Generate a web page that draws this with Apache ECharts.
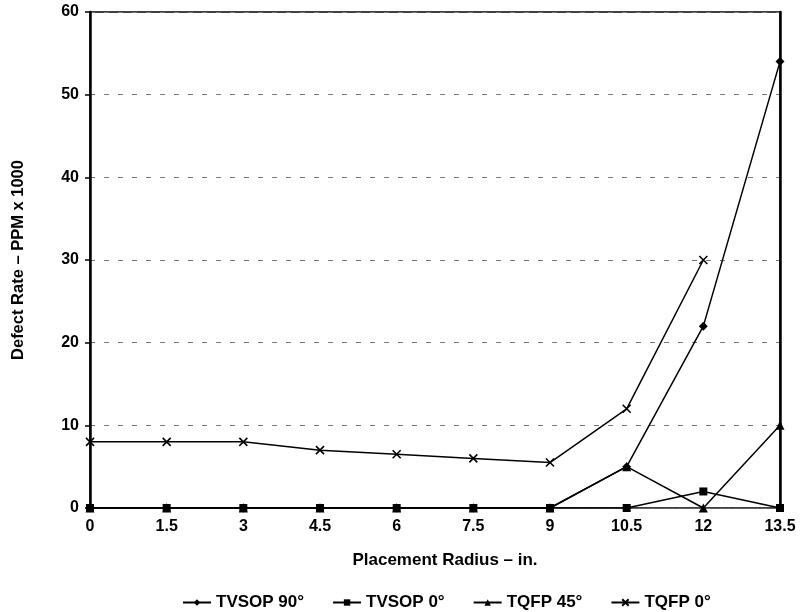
<!DOCTYPE html>
<html><head><meta charset="utf-8">
<script src="https://cdn.jsdelivr.net/npm/echarts@6/dist/echarts.min.js"></script>
<style>html,body{margin:0;padding:0;background:#fff}#c{width:803px;height:612px}</style>
</head><body><div id="c"></div>
<script>
var categories = ['0','1.5','3','4.5','6','7.5','9','10.5','12','13.5'];
var tvsop90 = [0,0,0,0,0,0,0,5,22,54];
var tvsop0 = [0,0,0,0,0,0,0,0,2,0];
var tqfp45 = [0,0,0,0,0,0,0,5,0,10];
var tqfp0 = [8,8,8,7,6.5,6,5.5,12,30,null];
var seriesNames = ['TVSOP 90°','TVSOP 0°','TQFP 45°','TQFP 0°'];

var font = 'Liberation Sans, Arial, sans-serif';
function mk(name, data, symbol, size, extra){
  return {name:name,type:'line',data:data,symbol:symbol,symbolSize:size,
    showAllSymbol:true,connectNulls:false,
    lineStyle:{color:'#000',width:1.5},
    itemStyle:{color:'#000',borderColor:'#000',borderWidth:extra?1.6:0},
    emphasis:{disabled:true},animation:false};
}
var chart = echarts.init(document.getElementById('c'));
chart.setOption({
  animation:false,
  grid:{left:90,right:23,top:12,bottom:104,show:true,borderColor:'#000',borderWidth:1.5},
  legend:{top:589,left:177,itemWidth:28,itemHeight:8,itemGap:28,
    textStyle:{fontFamily:font,fontWeight:'bold',fontSize:17,color:'#000'},
    data:seriesNames},
  xAxis:{type:'category',data:categories,boundaryGap:false,
    name:'Placement Radius – in.',nameLocation:'middle',nameGap:44,
    nameTextStyle:{fontFamily:font,fontWeight:'bold',fontSize:17,color:'#000',padding:[0,0,0,20]},
    axisLine:{lineStyle:{color:'#666',type:'dotted',width:1}},
    axisTick:{show:false},
    axisLabel:{fontFamily:font,fontWeight:'bold',fontSize:16,color:'#000',margin:11},
    splitLine:{show:false}},
  yAxis:[{type:'value',min:0,max:60,interval:10,
    name:'Defect Rate – PPM x 1000',nameLocation:'middle',nameGap:63,
    nameTextStyle:{fontFamily:font,fontWeight:'bold',fontSize:16.5,color:'#000'},
    axisLine:{show:true,lineStyle:{color:'#000',width:2.5}},
    axisTick:{show:true,length:5,lineStyle:{color:'#000',width:1.5}},
    axisLabel:{fontFamily:font,fontWeight:'bold',fontSize:16,color:'#000',margin:11},
    splitLine:{show:true,lineStyle:{color:'#777',type:[5,9],width:1}}},
   {type:'value',min:0,max:60,interval:10,position:'right',
    axisLine:{show:true,lineStyle:{color:'#000',width:2.5}},
    axisTick:{show:false},axisLabel:{show:false},splitLine:{show:false}}],
  series:[
    mk(seriesNames[0],tvsop90,'diamond',9),
    mk(seriesNames[1],tvsop0,'rect',8),
    mk(seriesNames[2],tqfp45,'triangle',9),
    mk(seriesNames[3],tqfp0,'path://M0,0L10,10M10,0L0,10',8,true)
  ]
});
</script></body></html>
